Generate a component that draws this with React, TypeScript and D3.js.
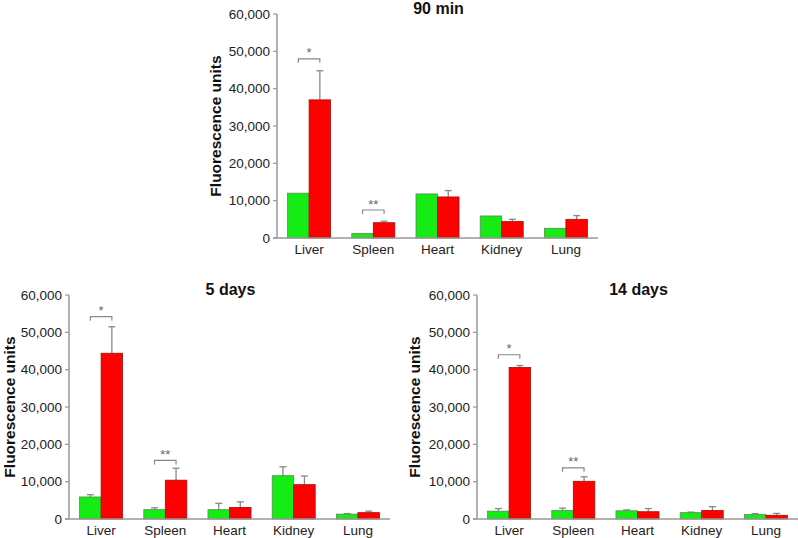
import React from "react";
import * as d3 from "d3";

const categories = ["Liver", "Spleen", "Heart", "Kidney", "Lung"];
const yTicks = [0, 10000, 20000, 30000, 40000, 50000, 60000];

const min90Green = [12000, 1200, 11800, 5900, 2600];
const min90GreenErr = [12000, 1200, 11800, 5900, 2600];
const min90Red = [37000, 4100, 11000, 4400, 5000];
const min90RedErr = [44800, 4500, 12700, 5000, 6000];
const min90Brackets = [
  { cat: "Liver", y: 48000, label: "*" },
  { cat: "Spleen", y: 7500, label: "**" },
];

const day5Green = [5900, 2500, 2500, 11600, 1300];
const day5GreenErr = [6500, 3000, 4200, 14000, 1450];
const day5Red = [44400, 10400, 3100, 9200, 1700];
const day5RedErr = [51500, 13600, 4600, 11500, 2100];
const day5Brackets = [
  { cat: "Liver", y: 54200, label: "*" },
  { cat: "Spleen", y: 15700, label: "**" },
];

const day14Green = [2100, 2300, 2200, 1700, 1200];
const day14GreenErr = [2800, 2900, 2450, 1850, 1450];
const day14Red = [40600, 10100, 1950, 2300, 1000];
const day14RedErr = [41100, 11300, 2800, 3300, 1500];
const day14Brackets = [
  { cat: "Liver", y: 44000, label: "*" },
  { cat: "Spleen", y: 13700, label: "**" },
];

type Bracket = { cat: string; y: number; label: string };

function Panel(props: {
  title: string;
  axisX: number;
  y0: number;
  yTop: number;
  xEnd: number;
  labelX: number;
  green: number[];
  greenErr: number[];
  red: number[];
  redErr: number[];
  brackets: Bracket[];
}) {
  const { title, axisX, y0, yTop, xEnd, labelX, green, greenErr, red, redErr, brackets } = props;
  const y = d3.scaleLinear().domain([0, 60000]).range([y0, yTop]);
  const x = d3
    .scaleBand<string>()
    .domain(categories)
    .range([axisX, xEnd])
    .paddingInner(0.33)
    .paddingOuter(0.165);
  const sub = d3.scaleBand<string>().domain(["g", "r"]).range([0, x.bandwidth()]);
  const bw = sub.bandwidth();
  const fmt = d3.format(",");
  const font = "Arial, 'Liberation Sans', sans-serif";
  const series = [
    { key: "g", vals: green, err: greenErr, fill: "#14ec14", stroke: "#5a8a5a" },
    { key: "r", vals: red, err: redErr, fill: "#ff0000", stroke: "#a01010" },
  ];
  return (
    <g fontFamily={font}>
      <text
        x={(axisX + xEnd) / 2 + 1}
        y={yTop}
        textAnchor="middle"
        fontSize={16}
        fontWeight="bold"
        fill="#111"
      >
        {title}
      </text>
      <text
        transform={`translate(${labelX},${(y0 + yTop) / 2}) rotate(-90)`}
        textAnchor="middle"
        dominantBaseline="central"
        fontSize={15.5}
        fontWeight="bold"
        fill="#111"
      >
        Fluorescence units
      </text>
      {yTicks.map((t) => (
        <g key={t}>
          <line x1={axisX - 4} x2={axisX} y1={y(t)} y2={y(t)} stroke="#999" strokeWidth={1.2} />
          <text
            x={axisX - 7}
            y={y(t)}
            textAnchor="end"
            dominantBaseline="central"
            fontSize={13.5}
            fill="#222"
          >
            {fmt(t)}
          </text>
        </g>
      ))}
      {series.map((s) =>
        categories.map((c, i) => {
          const bx = (x(c) as number) + (sub(s.key) as number);
          const cx = bx + bw / 2;
          return (
            <g key={s.key + c}>
              {s.err[i] > s.vals[i] && (
                <g stroke="#888" strokeWidth={1.3}>
                  <line x1={cx} x2={cx} y1={y(s.vals[i])} y2={y(s.err[i])} />
                  <line x1={cx - 3.5} x2={cx + 3.5} y1={y(s.err[i])} y2={y(s.err[i])} />
                </g>
              )}
              <rect
                x={bx}
                y={y(s.vals[i])}
                width={bw}
                height={y0 - y(s.vals[i])}
                fill={s.fill}
                stroke={s.stroke}
                strokeWidth={0.8}
              />
            </g>
          );
        })
      )}
      <line x1={axisX} x2={axisX} y1={yTop} y2={y0} stroke="#999" strokeWidth={1.5} />
      <line x1={axisX - 4} x2={xEnd} y1={y0} y2={y0} stroke="#999" strokeWidth={1.5} />
      {categories.map((c) => (
        <text
          key={c}
          x={(x(c) as number) + x.bandwidth() / 2}
          y={y0 + 16}
          textAnchor="middle"
          fontSize={13.5}
          fill="#222"
        >
          {c}
        </text>
      ))}
      {brackets.map((b) => {
        const x1 = (x(b.cat) as number) + (sub("g") as number) + bw / 2;
        const x2 = (x(b.cat) as number) + (sub("r") as number) + bw / 2;
        const by = y(b.y);
        return (
          <g key={b.cat}>
            <path
              d={`M${x1},${by + 4}V${by}H${x2}V${by + 4}`}
              fill="none"
              stroke="#888"
              strokeWidth={1.2}
            />
            <text x={(x1 + x2) / 2} y={by - 1.5} textAnchor="middle" fontSize={13} fill="#666">
              {b.label}
            </text>
          </g>
        );
      })}
    </g>
  );
}

export default function App() {
  return (
    <svg
      width={798}
      height={538}
      style={{ position: "absolute", left: 0, top: 0, background: "#fff" }}
    >
      <Panel
        title="90 min"
        axisX={277}
        y0={238}
        yTop={14}
        xEnd={598}
        labelX={215}
        green={min90Green}
        greenErr={min90GreenErr}
        red={min90Red}
        redErr={min90RedErr}
        brackets={min90Brackets}
      />
      <Panel
        title="5 days"
        axisX={69}
        y0={519}
        yTop={295}
        xEnd={390}
        labelX={9}
        green={day5Green}
        greenErr={day5GreenErr}
        red={day5Red}
        redErr={day5RedErr}
        brackets={day5Brackets}
      />
      <Panel
        title="14 days"
        axisX={477}
        y0={519}
        yTop={295}
        xEnd={798}
        labelX={414}
        green={day14Green}
        greenErr={day14GreenErr}
        red={day14Red}
        redErr={day14RedErr}
        brackets={day14Brackets}
      />
    </svg>
  );
}
